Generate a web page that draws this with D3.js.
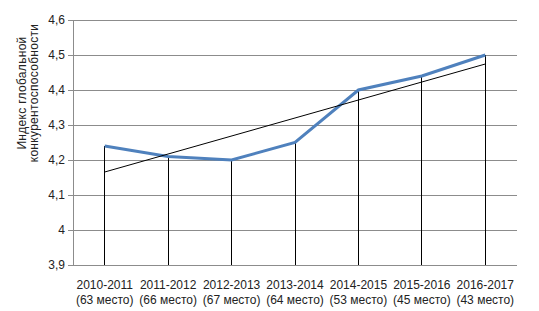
<!DOCTYPE html>
<html>
<head>
<meta charset="utf-8">
<script src="https://cdn.jsdelivr.net/npm/d3@7"></script>
<style>
  body { margin: 0; background: #fff; }
  svg { display: block; font-family: "Liberation Sans", Arial, sans-serif; }
</style>
</head>
<body>
<div id="chart"></div>
<script>
const years = ["2010-2011", "2011-2012", "2012-2013", "2013-2014", "2014-2015", "2015-2016", "2016-2017"];
const places = ["(63 место)", "(66 место)", "(67 место)", "(64 место)", "(53 место)", "(45 место)", "(43 место)"];
const values = [4.24, 4.21, 4.20, 4.25, 4.40, 4.44, 4.50];
const yTicks = [3.9, 4.0, 4.1, 4.2, 4.3, 4.4, 4.5, 4.6];

const width = 539, height = 311;
const margin = { top: 20, right: 22, bottom: 46, left: 73 };
const innerW = width - margin.left - margin.right;
const innerH = height - margin.top - margin.bottom;

const svg = d3.select("#chart").append("svg")
    .attr("width", width)
    .attr("height", height);

const g = svg.append("g")
    .attr("transform", `translate(${margin.left},${margin.top})`);

const x = d3.scaleBand()
    .domain(years)
    .range([0, innerW]);

const y = d3.scaleLinear()
    .domain([3.9, 4.6])
    .range([innerH, 0]);

const cx = d => x(d) + x.bandwidth() / 2;
const fmt = v => d3.format(".1f")(v).replace(".", ",").replace(/,0$/, "");

// Gridlines
g.selectAll(".grid")
    .data(yTicks.slice(1))
    .enter()
    .append("line")
    .attr("x1", 0)
    .attr("x2", innerW)
    .attr("y1", d => y(d))
    .attr("y2", d => y(d))
    .attr("stroke", "#8c8c8c")
    .attr("stroke-width", 1)
    .attr("shape-rendering", "crispEdges");

// Left axis
const yAxis = g.append("g")
    .call(d3.axisLeft(y).tickValues(yTicks).tickFormat(fmt).tickSize(5).tickPadding(3));
yAxis.select(".domain").attr("stroke", "#8c8c8c");
yAxis.selectAll(".tick line").attr("stroke", "#8c8c8c");
yAxis.selectAll("text")
    .style("font-size", "12px")
    .attr("fill", "#222");

// Bottom axis line
g.append("line")
    .attr("x1", 0)
    .attr("x2", innerW)
    .attr("y1", innerH)
    .attr("y2", innerH)
    .attr("stroke", "#8c8c8c")
    .attr("shape-rendering", "crispEdges");

// Drop lines
g.selectAll(".drop")
    .data(values)
    .enter()
    .append("line")
    .attr("x1", (d, i) => cx(years[i]))
    .attr("x2", (d, i) => cx(years[i]))
    .attr("y1", d => y(d))
    .attr("y2", innerH)
    .attr("stroke", "#000")
    .attr("stroke-width", 1)
    .attr("shape-rendering", "crispEdges");

// Series line
const line = d3.line()
    .x((d, i) => cx(years[i]))
    .y(d => y(d));

g.append("path")
    .datum(values)
    .attr("d", line)
    .attr("fill", "none")
    .attr("stroke", "#4F81BD")
    .attr("stroke-width", 3);

// Linear trendline
const n = values.length;
const xs = d3.range(1, n + 1);
const mx = d3.mean(xs), my = d3.mean(values);
const slope = d3.sum(xs, (xi, i) => (xi - mx) * (values[i] - my)) / d3.sum(xs, xi => (xi - mx) ** 2);
const icpt = my - slope * mx;

g.append("line")
    .attr("x1", cx(years[0]))
    .attr("x2", cx(years[n - 1]))
    .attr("y1", y(icpt + slope * 1))
    .attr("y2", y(icpt + slope * n))
    .attr("stroke", "#000")
    .attr("stroke-width", 1);

// Category labels
const labels = g.selectAll(".xlab")
    .data(years)
    .enter()
    .append("text")
    .attr("x", d => cx(d))
    .attr("y", innerH + 24)
    .attr("text-anchor", "middle")
    .style("font-size", "12px")
    .attr("fill", "#222");
labels.append("tspan").text(d => d);
labels.append("tspan")
    .attr("x", d => cx(d))
    .attr("dy", 15)
    .text((d, i) => places[i]);

// Y axis title
const title = svg.append("text")
    .attr("transform", "translate(26,93) rotate(-90)")
    .attr("text-anchor", "middle")
    .style("font-size", "12px")
    .style("letter-spacing", "0.3px")
    .attr("fill", "#222");
title.append("tspan").attr("x", 0).attr("dy", 0).text("Индекс глобальной");
title.append("tspan").attr("x", 0).attr("dy", 12).text("конкурентоспособности");
</script>
</body>
</html>
